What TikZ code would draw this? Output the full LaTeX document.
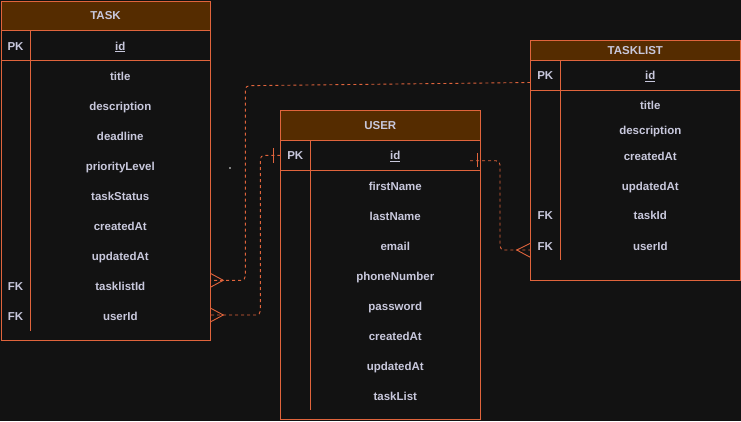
\documentclass[tikz,border=0pt]{standalone}
\usepackage{fontspec}
\setmainfont{Liberation Sans}
\definecolor{bg}{HTML}{121212}
\definecolor{edgec}{HTML}{E0643C}
\definecolor{hdr}{HTML}{552C00}
\definecolor{txt}{HTML}{C8C8DC}
\begin{document}
\begin{tikzpicture}[x=1pt,y=-1pt,
  tbl/.style={draw=edgec,line width=1pt},
  sep/.style={draw=edgec,line width=1pt},
  lbl/.style={text=txt,font=\fontsize{11.5}{13}\selectfont\bfseries,inner sep=0pt,text height=8.2pt,text depth=0pt,anchor=center},
  link/.style={draw=edgec,line width=0.9pt,dash pattern=on 3pt off 3pt,rounded corners=4pt},
  crow/.style={draw=edgec,line width=0.9pt},
  tick/.style={draw=edgec,line width=0.9pt}]
\fill[bg] (0,0) rectangle (741,421);
\useasboundingbox (0,0) rectangle (741,421);

% ---------------- TASK ----------------
\fill[hdr] (1,1) rectangle (210,30.3);
\draw[tbl] (1,1) rectangle (210.3,340.3);
\draw[sep] (1,30.3) -- (210.3,30.3);
\draw[sep] (1,60.3) -- (210.3,60.3);
\draw[sep] (30.3,30.3) -- (30.3,330.7);
\node[lbl] (taskh) at (105.5,15.5) {TASK};
\node[lbl] (taskpk) at (15.5,46) {PK};
\node[lbl] (taskid) at (120.3,46) {\underline{id}};
\node[lbl] (tasktitle) at (120.3,76) {title};
\node[lbl] (taskdesc) at (120.3,106) {description};
\node[lbl] (taskdead) at (120.3,136) {deadline};
\node[lbl] (taskprio) at (120.3,166) {priorityLevel};
\node[lbl] (taskstat) at (120.3,196) {taskStatus};
\node[lbl] (taskcre) at (120.3,226) {createdAt};
\node[lbl] (taskupd) at (120.3,256) {updatedAt};
\node[lbl] (taskfk1) at (15.5,286) {FK};
\node[lbl] (tasktl) at (120.3,286) {tasklistId};
\node[lbl] (taskfk2) at (15.5,316) {FK};
\node[lbl] (taskuid) at (120.3,316) {userId};

% ---------------- USER ----------------
\fill[hdr] (280.3,110.3) rectangle (480.3,140.3);
\draw[tbl] (280.3,110.3) rectangle (480.3,419.5);
\draw[sep] (280.3,140.3) -- (480.3,140.3);
\draw[sep] (280.3,170.3) -- (480.3,170.3);
\draw[sep] (310.3,140.3) -- (310.3,410);
\node[lbl] (userh) at (380.3,125.5) {USER};
\node[lbl] (userpk) at (295.3,155.5) {PK};
\node[lbl] (userid) at (395.3,155.5) {\underline{id}};
\node[lbl] (userfn) at (395.3,186) {firstName};
\node[lbl] (userln) at (395.3,216) {lastName};
\node[lbl] (userem) at (395.3,246) {email};
\node[lbl] (userph) at (395.3,276) {phoneNumber};
\node[lbl] (userpw) at (395.3,306) {password};
\node[lbl] (usercr) at (395.3,336) {createdAt};
\node[lbl] (userup) at (395.3,366) {updatedAt};
\node[lbl] (usertl) at (395.3,396) {taskList};

% ---------------- TASKLIST ----------------
\fill[hdr] (530.3,40.3) rectangle (740,60.3);
\draw[tbl] (530.3,40.3) rectangle (740,280);
\draw[sep] (530.3,60.3) -- (740,60.3);
\draw[sep] (530.3,90.3) -- (740,90.3);
\draw[sep] (560.3,60.3) -- (560.3,260);
\node[lbl] (tlh) at (635.3,50.5) {TASKLIST};
\node[lbl] (tlpk) at (545.3,75.7) {PK};
\node[lbl] (tlid) at (650.3,75.7) {\underline{id}};
\node[lbl] (tltitle) at (650.3,105.5) {title};
\node[lbl] (tldesc) at (650.3,130.7) {description};
\node[lbl] (tlcre) at (650.3,156) {createdAt};
\node[lbl] (tlupd) at (650.3,186) {updatedAt};
\node[lbl] (tlfk1) at (545.3,215.5) {FK};
\node[lbl] (tltask) at (650.3,215.5) {taskId};
\node[lbl] (tlfk2) at (545.3,246) {FK};
\node[lbl] (tluid) at (650.3,246) {userId};

% ---------------- connectors ----------------
\coordinate (tlpkend) at (530.3,82.5);
\coordinate (tasktlend) at (210.3,280.3);
\draw[link] (tlpkend) -- (245.3,85.7) -- (245.3,280.3) -- (tasktlend);
\draw[crow] (210.3,273.3) -- (223.3,280.3) -- (210.3,287.3);

\coordinate (userpkl) at (280.3,155.3);
\coordinate (taskuidend) at (210.3,315);
\draw[link] (userpkl) -- (260.3,155.3) -- (260.3,315) -- (taskuidend);
\draw[tick] (273.3,148) -- (273.3,162.5);
\draw[crow] (210.3,308) -- (223.3,315) -- (210.3,322);

\coordinate (userpkr) at (470,160.7);
\coordinate (tluidend) at (530.3,250);
\draw[link] (userpkr) -- (500,160.7) -- (500,250) -- (tluidend);
\draw[tick] (477.3,153.3) -- (477.3,167.3);
\draw[crow] (530.3,243.3) -- (516.7,250) -- (530.3,257.3);

% stray mark
\fill[gray] (229,166.5) rectangle (230.5,169);
\end{tikzpicture}
\end{document}
